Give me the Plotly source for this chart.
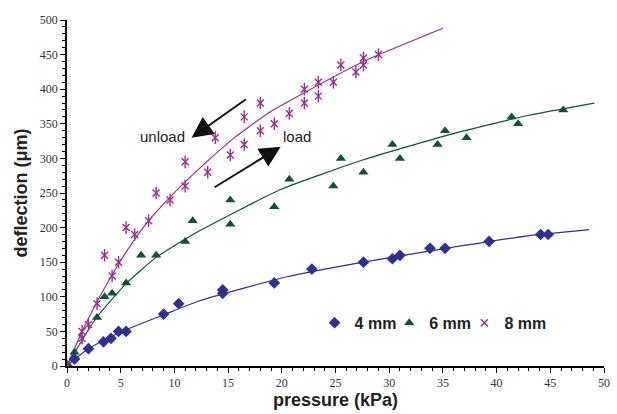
import plotly.graph_objects as go

# ---- data ----
p4 = [0, 0.7, 2.0, 3.4, 4.1, 4.8, 5.5, 9.0, 10.4, 14.5, 14.5, 19.3, 22.8, 27.6, 30.3, 31.0, 33.8, 35.2, 39.3, 44.1, 44.8]
d4 = [0, 10, 25, 35, 40, 50, 50, 75, 90, 110, 105, 120, 140, 150, 155, 160, 170, 170, 180, 190, 190]

p6 = [0, 0.7, 2.8, 3.5, 4.2, 5.5, 6.9, 8.3, 11.0, 11.7, 15.2, 15.2, 19.3, 20.7, 24.8, 25.5, 27.6, 30.3, 31.0, 34.5, 35.2, 37.2, 41.4, 42.0, 46.2]
d6 = [0, 20, 70, 100, 105, 120, 160, 160, 180, 210, 205, 240, 230, 270, 260, 300, 280, 320, 300, 320, 340, 330, 360, 350, 370]

p8 = [0, 1.4, 1.4, 2.0, 2.8, 3.5, 4.2, 4.8, 5.5, 6.3, 7.6, 8.3, 9.6, 11.0, 11.0, 13.1, 13.8, 15.2, 16.5, 16.5, 18.0, 18.0, 19.3, 20.7, 22.1, 22.1, 23.4, 23.4, 24.8, 25.5, 26.9, 27.6, 27.6, 29.0]
d8 = [0, 50, 40, 60, 90, 160, 130, 150, 200, 190, 210, 250, 240, 295, 260, 280, 330, 305, 360, 320, 380, 340, 350, 365, 400, 380, 410, 390, 410, 435, 425, 445, 435, 450]

# trend lines
t4_x = [0, 0.7, 2.1, 4.9, 9.0, 12.3, 20.5, 27.6, 35.3, 42.9, 48.6]
t4_y = [0, 9.5, 26, 48.5, 74, 94, 129, 150, 170, 188, 197]

t6_x = [0, 0.7, 2.7, 5.5, 8.3, 12.3, 19.9, 27.6, 35.3, 42.9, 49.1]
t6_y = [0, 19, 69, 119, 157, 195, 255, 298, 333, 362, 380]

t8_x = [0, 1.35, 2.7, 4.1, 4.9, 6.3, 7.6, 9.6, 11.0, 13.0, 15.6, 19.0, 22.1, 27.6, 35.0]
t8_y = [0, 48, 90, 129, 150, 183, 210, 244, 266, 295, 330, 368, 395, 440, 488]

x_ticks = list(range(0, 51, 5))
y_ticks = list(range(0, 501, 50))

colors = {"4 mm": "#2E3192", "6 mm": "#0D5236", "8 mm": "#9B2C92"}

fig = go.Figure()

for name, tx, ty in [("4 mm", t4_x, t4_y), ("6 mm", t6_x, t6_y), ("8 mm", t8_x, t8_y)]:
    fig.add_trace(go.Scatter(x=tx, y=ty, mode="lines",
                             line=dict(color=colors[name], width=1.2, shape="spline", smoothing=0.5),
                             showlegend=False, hoverinfo="skip"))

fig.add_trace(go.Scatter(x=p4, y=d4, mode="markers", name="4 mm", legend="legend",
                         marker=dict(symbol="diamond", size=9, color=colors["4 mm"])))
fig.add_trace(go.Scatter(x=p6, y=d6, mode="markers", name="6 mm", legend="legend2",
                         marker=dict(symbol="triangle-up", size=9, color=colors["6 mm"])))
fig.add_trace(go.Scatter(x=p8, y=d8, mode="markers", name="8 mm", legend="legend3",
                         marker=dict(symbol="x-thin-open", size=7, color=colors["8 mm"],
                                     line=dict(color=colors["8 mm"], width=1.4))))
fig.add_trace(go.Scatter(x=p8, y=d8, mode="markers", showlegend=False, hoverinfo="skip",
                         marker=dict(symbol="line-ns-open", size=9, color=colors["8 mm"],
                                     line=dict(color=colors["8 mm"], width=1.4))))

tickfont = dict(family="Liberation Serif", size=12, color="#333333")
annfont = dict(family="Liberation Sans", size=15, color="#222222")
legfont = dict(family="Liberation Sans", size=16, color="#222222", weight="bold")


def leg(xpos):
    return dict(orientation="h", x=xpos, y=0.125, xanchor="left", yanchor="middle",
                font=legfont, bgcolor="rgba(0,0,0,0)", itemwidth=30)


fig.update_layout(
    width=617, height=414,
    margin=dict(l=67, r=7, t=20, b=44),
    paper_bgcolor="white", plot_bgcolor="white",
    showlegend=True,
    legend=leg(0.461),
    legend2=leg(0.600),
    legend3=leg(0.740),
    xaxis=dict(range=[0, 50], tickvals=x_ticks, ticks="outside", ticklen=5, tickcolor="black",
               showline=True, linecolor="black", linewidth=1.5, showgrid=False, zeroline=False,
               tickfont=tickfont,
               minor=dict(dtick=1, ticks="outside", ticklen=3, tickcolor="black"),
               title=dict(text="pressure (kPa)", standoff=4,
                          font=dict(family="Liberation Sans", size=18, color="#222222", weight="bold"))),
    yaxis=dict(range=[0, 500], tickvals=y_ticks, ticks="outside", ticklen=5, tickcolor="black",
               showline=True, linecolor="black", linewidth=1.5, showgrid=False, zeroline=False,
               tickfont=tickfont,
               minor=dict(dtick=10, ticks="outside", ticklen=3, tickcolor="black"),
               title=dict(text="deflection (μm)", standoff=8,
                          font=dict(family="Liberation Sans", size=18, color="#222222", weight="bold"))),
    annotations=[
        dict(x=11.6, y=330, ax=16.8, ay=387, xref="x", yref="y", axref="x", ayref="y",
             showarrow=True, arrowhead=2, arrowsize=2.1, arrowwidth=2, arrowcolor="#111111", text=""),
        dict(x=19.9, y=317, ax=13.6, ay=257, xref="x", yref="y", axref="x", ayref="y",
             showarrow=True, arrowhead=2, arrowsize=2.1, arrowwidth=2, arrowcolor="#111111", text=""),
        dict(x=8.85, y=331, xref="x", yref="y", text="unload", showarrow=False, font=annfont),
        dict(x=21.4, y=331, xref="x", yref="y", text="load", showarrow=False, font=annfont),
    ],
)

fig.write_html("out.html")
